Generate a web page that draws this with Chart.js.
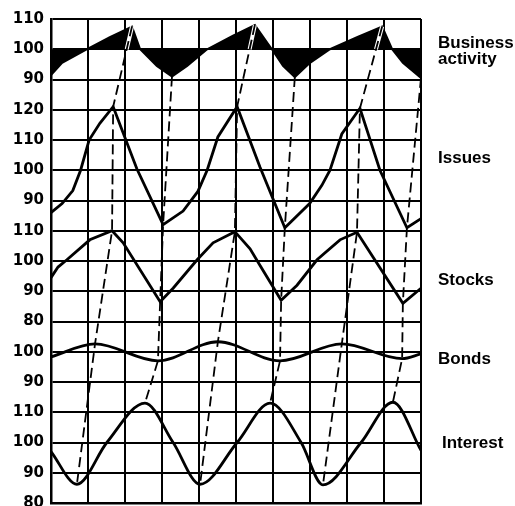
<!DOCTYPE html>
<html>
<head>
<meta charset="utf-8">
<title>Business cycle indicators</title>
<script src="https://cdn.jsdelivr.net/npm/chart.js@4.4.1/dist/chart.umd.min.js"></script>
<style>
    html, body { margin: 0; padding: 0; background: #ffffff; }
    canvas { display: block; }
</style>
</head>
<body>
<canvas id="cycleChart" width="515" height="506"></canvas>
<script>
// Labels printed on the left, one per horizontal grid line (top to bottom)
const tickLabels = ['110', '100', '90', '120', '110', '100', '90', '110', '100', '90', '80', '100', '90', '110', '100', '90', '80'];

// Each series: [time in grid columns, index value]
const business = [
    [0, 91.5], [0.3, 95.5], [1.0, 100.2], [1.59, 104], [2.19, 107.5], [2.41, 100], [2.86, 94.5],
    [3.27, 91], [3.68, 94.5], [4.22, 100], [4.92, 104.5], [5.51, 108], [5.97, 100], [6.27, 94.5],
    [6.59, 90.8], [7.0, 95.5], [7.54, 100], [8.27, 104], [8.95, 107.5], [9.22, 100], [9.51, 95.5], [10, 90.5]
];
const issues = [
    [0, 86], [0.3, 89], [0.59, 93.3], [0.8, 100], [1.03, 110], [1.32, 115.5], [1.68, 121], [2.32, 100.5],
    [3.03, 82], [3.57, 86.5], [3.97, 93], [4.22, 100], [4.51, 111], [5.03, 121], [5.65, 101],
    [6.32, 81], [6.99, 89], [7.32, 95], [7.54, 100], [7.86, 112], [8.35, 120.5], [8.89, 100], [9.62, 81], [10, 84]
];
const stocks = [
    [0, 94.5], [0.19, 98], [0.43, 100.4], [1.05, 107], [1.65, 110], [1.95, 106], [2.95, 86.5],
    [3.3, 91], [3.95, 100.4], [4.38, 106], [4.97, 109.7], [5.38, 104], [5.65, 98.5], [6.22, 87],
    [6.65, 92], [7.19, 100.4], [7.81, 107], [8.27, 109.5], [9.51, 86], [10, 91]
];
const bonds = [
    [0, 98.3], [1.19, 102.6], [2.89, 97], [4.51, 103.3], [6.19, 97], [7.86, 102.6], [9.49, 97.7], [10, 99.3]
];
const interest = [
    [0, 97], [0.7, 86.2], [1.51, 100], [2.54, 113], [3.3, 100], [4.03, 86.2], [5.03, 100],
    [5.92, 113], [6.76, 100], [7.35, 86], [8.38, 100], [9.24, 113.3], [10, 97.4]
];

// Leader lines: point index in business, issues, stocks, bonds, interest
const peakChains = [[4, 6, 4, 1, 1], [11, 13, 10, 3, 5], [18, 20, 17, 5, 9]];
const troughChains = [[7, 8, 6, 2, 3], [14, 15, 13, 4, 7], [21, 22, 18, 6, 11]];

// Which grid line each panel starts on, and the value printed there
const panels = {
    business: { slot: 0, top: 110 },
    issues: { slot: 3, top: 120 },
    stocks: { slot: 7, top: 110 },
    bonds: { slot: 11, top: 100 },
    interest: { slot: 13, top: 110 }
};

const seriesLabels = [
    { lines: ['Business', 'activity'], slot: 0.96 },
    { lines: ['Issues'], slot: 4.76 },
    { lines: ['Stocks'], slot: 8.79 },
    { lines: ['Bonds'], slot: 11.4 },
    { lines: ['Interest'], slot: 14.18, dx: 4 }
];

/**
 * Convert an index value to its position on the shared vertical axis
 */
function toSlot(panel, value) {
    return panel.slot + (panel.top - value) / 10;
}

function toPoints(series, panel) {
    return series.map(([x, v]) => ({ x: x, y: toSlot(panel, v) }));
}

const seriesPoints = {
    business: toPoints(business, panels.business),
    issues: toPoints(issues, panels.issues),
    stocks: toPoints(stocks, panels.stocks),
    bonds: toPoints(bonds, panels.bonds),
    interest: toPoints(interest, panels.interest)
};
const chainOrder = ['business', 'issues', 'stocks', 'bonds', 'interest'];

function chainPoints(chain) {
    return chain.map((idx, i) => seriesPoints[chainOrder[i]][idx]);
}

/**
 * White gap where a leader line crosses the black business band
 */
function bandGap(chain) {
    const p0 = seriesPoints.business[chain[0]];
    const p1 = seriesPoints.issues[chain[1]];
    const base = toSlot(panels.business, 100);
    const t = (base - p0.y) / (p1.y - p0.y);
    return [p0, { x: p0.x + t * (p1.x - p0.x), y: base }];
}

const datasets = [];

datasets.push({
    data: seriesPoints.business,
    borderColor: '#000',
    backgroundColor: '#000',
    borderWidth: 2,
    fill: { value: toSlot(panels.business, 100) },
    order: 4
});

peakChains.forEach(chain => {
    datasets.push({
        data: bandGap(chain),
        borderColor: '#fff',
        borderWidth: 4,
        fill: false,
        order: 3
    });
});

peakChains.concat(troughChains).forEach(chain => {
    datasets.push({
        data: chainPoints(chain),
        borderColor: '#000',
        borderWidth: 1.8,
        borderDash: [10, 5],
        fill: false,
        order: 2
    });
});

['issues', 'stocks'].forEach(name => {
    datasets.push({
        data: seriesPoints[name],
        borderColor: '#000',
        borderWidth: 2.8,
        fill: false,
        order: 1
    });
});

['bonds', 'interest'].forEach(name => {
    datasets.push({
        data: seriesPoints[name],
        borderColor: '#000',
        borderWidth: 2.8,
        cubicInterpolationMode: 'monotone',
        fill: false,
        order: 1
    });
});

// Series names to the right of the grid
const sideLabels = {
    id: 'sideLabels',
    afterDraw(chart) {
        const ctx = chart.ctx;
        const y = chart.scales.y;
        const left = chart.chartArea.right + 17;
        ctx.save();
        ctx.fillStyle = '#000';
        ctx.font = 'bold 17px "Liberation Sans", Arial, sans-serif';
        ctx.textAlign = 'left';
        ctx.textBaseline = 'alphabetic';
        seriesLabels.forEach(label => {
            const base = y.getPixelForValue(label.slot);
            label.lines.forEach((line, i) => {
                ctx.fillText(line, left + (label.dx || 0), base + i * 16);
            });
        });
        ctx.restore();
    }
};

new Chart(document.getElementById('cycleChart'), {
    type: 'line',
    data: { datasets: datasets },
    plugins: [sideLabels],
    options: {
        responsive: false,
        animation: false,
        layout: { padding: { top: 19, right: 94, bottom: 3, left: 0 } },
        elements: { point: { radius: 0 }, line: { tension: 0 } },
        plugins: {
            legend: { display: false },
            tooltip: { enabled: false }
        },
        scales: {
            x: {
                type: 'linear',
                min: 0,
                max: 10,
                ticks: { stepSize: 1, display: false },
                grid: { color: '#000', lineWidth: 2, drawTicks: false },
                border: { color: '#000', width: 2.5 },
                afterFit: (scale) => { scale.height = 0; }
            },
            y: {
                type: 'linear',
                min: 0,
                max: 16,
                reverse: true,
                ticks: {
                    stepSize: 1,
                    padding: 7,
                    color: '#000',
                    font: { family: '"DejaVu Sans", sans-serif', size: 15, weight: 'bold' },
                    callback: (value) => tickLabels[value]
                },
                grid: { color: '#000', lineWidth: 2, drawTicks: false },
                border: { color: '#000', width: 2.5 },
                afterFit: (scale) => {
                    scale.width = 51;
                    scale.paddingTop = 0;
                    scale.paddingBottom = 0;
                }
            }
        }
    }
});
</script>
</body>
</html>
